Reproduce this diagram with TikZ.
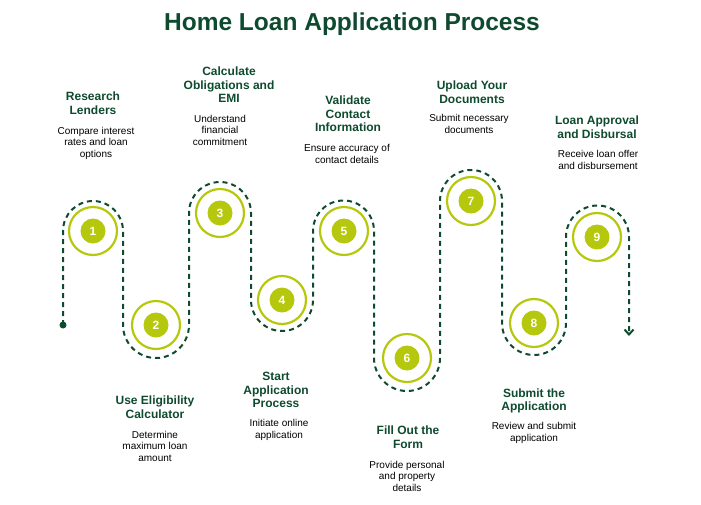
\documentclass[tikz,border=0pt]{standalone}
\usepackage{fontspec}
\setmainfont{Liberation Sans}
\usetikzlibrary{arrows.meta}
\definecolor{darkgreen}{HTML}{0E4A2E}
\definecolor{lime}{HTML}{B5C80E}
\tikzset{
  ring/.style={draw=lime, line width=2.2pt, circle, minimum size=48pt, inner sep=0pt},
  dot/.style={fill=lime, circle, minimum size=25pt, inner sep=0pt, text=white, font=\fontsize{12}{12}\selectfont\bfseries},
  stagelabel/.style={text=darkgreen, align=center, font=\fontsize{12}{13.5}\selectfont\bfseries},
  info/.style={align=center, font=\fontsize{10}{11.5}\selectfont},
  track/.style={darkgreen, line width=2pt, dash pattern=on 5pt off 4pt}
}
\begin{document}
\begin{tikzpicture}[x=1pt,y=-1pt]
  \useasboundingbox (0,0) rectangle (701,504);
  % titre
  \node[text=darkgreen, font=\fontsize{24.5}{24.5}\selectfont\bfseries] (title) at (352,24) {Home Loan Application Process};

  % étapes
  \foreach \n/\x/\y in {1/93/231, 2/156/325, 3/220/213, 4/282/300, 5/344/231, 6/407/358, 7/471/201, 8/534/323, 9/597/237} {
    \node[ring] (r\n) at (\x,\y) {};
    \node[dot] (d\n) at (\x,\y) {\n};
  }

  % chemin en pointillés
  \coordinate (start) at (63,325);
  \fill[darkgreen] (start) circle (3.5pt);
  \draw[track, -{Straight Barb[length=5pt,width=9pt]}]
    (start) -- ++(0,-94) arc[start angle=180, end angle=360, radius=30]
    -- ++(0,94) arc[start angle=180, end angle=0, radius=33]
    -- ++(0,-112) arc[start angle=180, end angle=360, radius=31]
    -- ++(0,87) arc[start angle=180, end angle=0, radius=31]
    -- ++(0,-69) arc[start angle=180, end angle=360, radius=30.5]
    -- ++(0,127) arc[start angle=180, end angle=0, radius=33]
    -- ++(0,-157) arc[start angle=180, end angle=360, radius=31]
    -- ++(0,122) arc[start angle=180, end angle=0, radius=32]
    -- ++(0,-86) arc[start angle=180, end angle=360, radius=31.5]
    -- ++(0,99) coordinate (end);

  % textes du haut
  \node[stagelabel] (t1) at (93,103) {Research\\Lenders};
  \node[info] (i1) at (96,143) {Compare interest\\rates and loan\\options};
  \node[stagelabel] (t3) at (229,85) {Calculate\\Obligations and\\EMI};
  \node[info] (i3) at (220,130) {Understand\\financial\\commitment};
  \node[stagelabel] (t5) at (348,114) {Validate\\Contact\\Information};
  \node[info] (i5) at (347,154) {Ensure accuracy of\\contact details};
  \node[stagelabel] (t7) at (472,92) {Upload Your\\Documents};
  \node[info] (i7) at (469,124) {Submit necessary\\documents};
  \node[stagelabel] (t9) at (597,127) {Loan Approval\\and Disbursal};
  \node[info] (i9) at (598,160) {Receive loan offer\\and disbursement};

  % textes du bas
  \node[stagelabel] (t2) at (155,407) {Use Eligibility\\Calculator};
  \node[info] (i2) at (155,446) {Determine\\maximum loan\\amount};
  \node[stagelabel] (t4) at (276,390) {Start\\Application\\Process};
  \node[info] (i4) at (279,430) {Initiate online\\application};
  \node[stagelabel] (t6) at (408,437) {Fill Out the\\Form};
  \node[info] (i6) at (407,476) {Provide personal\\and property\\details};
  \node[stagelabel] (t8) at (534,401) {Submit the\\Application};
  \node[info] (i8) at (534,433) {Review and submit\\application};
\end{tikzpicture}
\end{document}
